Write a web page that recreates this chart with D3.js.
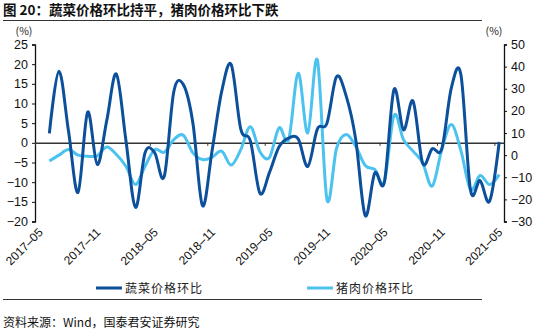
<!DOCTYPE html>
<html><head><meta charset="utf-8">
<script src="https://cdn.jsdelivr.net/npm/d3@7"></script>
<style>body{margin:0;background:#fff}svg{display:block}</style>
</head><body><svg id="c" width="550" height="333"></svg>
<script>
const months = ["2017-05","2017-06","2017-07","2017-08","2017-09","2017-10","2017-11","2017-12","2018-01","2018-02","2018-03","2018-04","2018-05","2018-06","2018-07","2018-08","2018-09","2018-10","2018-11","2018-12","2019-01","2019-02","2019-03","2019-04","2019-05","2019-06","2019-07","2019-08","2019-09","2019-10","2019-11","2019-12","2020-01","2020-02","2020-03","2020-04","2020-05","2020-06","2020-07","2020-08","2020-09","2020-10","2020-11","2020-12","2021-01","2021-02","2021-03","2021-04","2021-05"];
// first month (2017-05) has no value plotted
const vegMoM = [null,2.4,18.2,3,-12.6,7.8,-5.5,5.7,17.5,0.6,-16.4,-2.5,-2.5,-8.6,13,14.8,5,-16,-2,13,19.9,3.5,0.5,-12.8,-7.5,-1,1.2,1.0,-6,3.5,5,16.8,12,1,-18.5,-7.7,-10,13.5,3.3,10.6,-5.2,-1.5,-1.5,14,17.3,-12,-9.6,-14.8,0.2];
const porkMoM = [null,-2.7,0,2.5,0,-0.5,-0.3,3.7,0.3,-5,-13.3,-5,2.5,1.3,7,9,1,-2,-1,1.8,-4.5,2.5,12.8,1.5,-1,12.3,7,37,10,43,-20,3,9.3,4,-4.7,-6.5,-12,17.9,7,1.8,-3.5,-14,2.5,13.8,2,-15.5,-9.2,-13.3,-8.8];
const leftTicks = [-20,-15,-10,-5,0,5,10,15,20,25];
const rightTicks = [-30,-20,-10,0,10,20,30,40,50];
const seriesNames = ["蔬菜价格环比","猪肉价格环比"];
const colors = ["#0c4f9b","#4cc2ef"];
const title = "图 20：蔬菜价格环比持平，猪肉价格环比下跌";
const source = "资料来源：Wind，国泰君安证券研究";

const svg = d3.select("#c");
const X0 = 35, X1 = 504, YT = 44.5, YB = 221.5;
const x = d3.scaleLinear().domain([-0.5, months.length - 0.5]).range([X0, X1]);
const yL = d3.scaleLinear().domain([-20, 25]).range([YB, YT]);
const yR = d3.scaleLinear().domain([-30, 50]).range([YB, YT]);
const cjk = "'Noto Sans CJK SC', sans-serif";
const lat = "'Liberation Sans', Arial, sans-serif";

// title
svg.append("text").attr("x", 3).attr("y", 15).attr("font-family", cjk).attr("font-weight", "bold")
  .attr("font-size", 13.5).attr("fill", "#111").text(title);
svg.append("line").attr("x1", 3).attr("x2", 482).attr("y1", 20.5).attr("y2", 20.5).attr("stroke", "#333").attr("stroke-width", 1);

// unit labels
svg.append("text").attr("x", 24).attr("y", 35).attr("text-anchor", "middle").attr("font-family", cjk).attr("font-size", 10.5).attr("fill", "#222").text("(%)");
svg.append("text").attr("x", 494).attr("y", 35).attr("text-anchor", "middle").attr("font-family", cjk).attr("font-size", 10.5).attr("fill", "#222").text("(%)");

// left axis
const gl = svg.append("g").attr("transform", `translate(${X0},0)`)
  .call(d3.axisLeft(yL).tickValues(leftTicks).tickSize(3).tickSizeOuter(3).tickFormat(d => d < 0 ? "−" + Math.abs(d) : d));
gl.select(".domain").attr("stroke", "#111").attr("stroke-width", 1.3);
gl.selectAll(".tick line").attr("stroke", "#111");
gl.selectAll(".tick text").attr("font-family", lat).attr("font-size", 12.5).attr("fill", "#111").attr("x", -7);

// right axis
const gr = svg.append("g").attr("transform", `translate(${X1},0)`)
  .call(d3.axisRight(yR).tickValues(rightTicks).tickSize(3).tickSizeOuter(3).tickFormat(d => d < 0 ? "−" + Math.abs(d) : d));
gr.select(".domain").attr("stroke", "#111").attr("stroke-width", 1.3);
gr.selectAll(".tick line").attr("stroke", "#111");
gr.selectAll(".tick text").attr("font-family", lat).attr("font-size", 12.5).attr("fill", "#111").attr("x", 7);

// zero line with category ticks
const y0 = yL(0);
const boundaries = d3.range(0, months.length + 1, 6).map(i => i - 0.5);
const gx = svg.append("g").attr("transform", `translate(0,${y0})`)
  .call(d3.axisBottom(x).tickValues(boundaries).tickSize(3).tickSizeOuter(0).tickFormat(""));
gx.select(".domain").attr("stroke", "#333").attr("stroke-width", 1.5);
gx.selectAll(".tick line").attr("stroke", "#333");

// bottom rotated labels
const labelIdx = d3.range(0, months.length, 6);
svg.append("g").selectAll("text").data(labelIdx).join("text")
  .attr("transform", i => `translate(${x(i) + 4},233) rotate(-45)`)
  .attr("text-anchor", "end").attr("font-family", lat).attr("font-size", 12).attr("fill", "#111")
  .text(i => months[i].replace("-", "–"));

// lines
const curve = d3.curveCardinal.tension(0);
const lineL = d3.line().defined(d => d != null).x((d, i) => x(i)).y(d => yL(d)).curve(curve);
const lineR = d3.line().defined(d => d != null).x((d, i) => x(i)).y(d => yR(d)).curve(curve);
svg.append("path").attr("d", lineR(porkMoM)).attr("fill", "none").attr("stroke", colors[1]).attr("stroke-width", 3);
svg.append("path").attr("d", lineL(vegMoM)).attr("fill", "none").attr("stroke", colors[0]).attr("stroke-width", 3);

// legend
const legend = [{x: 96, name: seriesNames[0], c: colors[0]}, {x: 307, name: seriesNames[1], c: colors[1]}];
legend.forEach(l => {
  svg.append("line").attr("x1", l.x).attr("x2", l.x + 26).attr("y1", 288).attr("y2", 288).attr("stroke", l.c).attr("stroke-width", 3);
  svg.append("text").attr("x", l.x + 29).attr("y", 292.5).attr("font-family", cjk).attr("font-size", 12)
    .attr("letter-spacing", 1).attr("fill", "#222").text(l.name);
});

svg.append("line").attr("x1", 3).attr("x2", 482).attr("y1", 299.5).attr("y2", 299.5).attr("stroke", "#333").attr("stroke-width", 1);
svg.append("text").attr("x", 3).attr("y", 327).attr("font-family", cjk).attr("font-size", 12).attr("fill", "#111").text(source);
</script></body></html>
